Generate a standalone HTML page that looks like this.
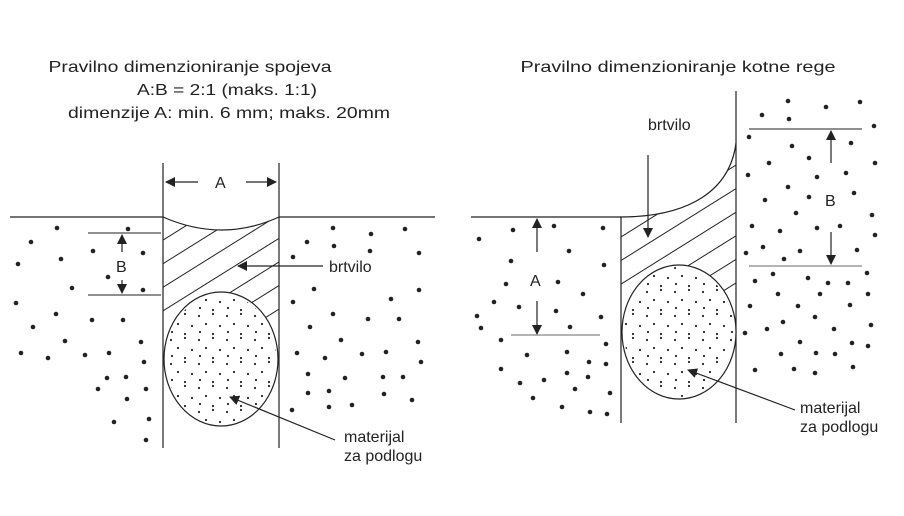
<!DOCTYPE html>
<html><head><meta charset="utf-8"><style>html,body{margin:0;padding:0;background:#fff}svg{display:block}text{font-family:"Liberation Sans",sans-serif;fill:#222}</style></head>
<body>
<svg width="904" height="516" viewBox="0 0 904 516" xmlns="http://www.w3.org/2000/svg">
<defs>
<pattern id="h" patternUnits="userSpaceOnUse" width="40" height="20" patternTransform="rotate(-32)">
<line x1="0" y1="10" x2="40" y2="10" stroke="#222" stroke-width="1"/>
</pattern>
<pattern id="d" patternUnits="userSpaceOnUse" width="28" height="24">
<circle cx="3" cy="4" r="1.1" fill="#222"/><circle cx="17" cy="2" r="1.1" fill="#222"/>
<circle cx="10" cy="12" r="1.1" fill="#222"/><circle cx="24" cy="14" r="1.1" fill="#222"/>
<circle cx="4" cy="20" r="1.1" fill="#222"/><circle cx="17" cy="22" r="1.1" fill="#222"/>
</pattern>
<marker id="a" markerWidth="10" markerHeight="10" refX="9" refY="5" orient="auto" markerUnits="userSpaceOnUse"><path d="M0,0 L10,5 L0,10 Z" fill="#222"/></marker>
</defs>
<g font-size="16" text-anchor="middle">
<text x="190" y="72" textLength="283" lengthAdjust="spacingAndGlyphs">Pravilno dimenzioniranje spojeva</text>
<text x="227" y="95" textLength="180" lengthAdjust="spacingAndGlyphs">A:B = 2:1 (maks. 1:1)</text>
<text x="229" y="118" textLength="322" lengthAdjust="spacingAndGlyphs">dimenzije A: min. 6 mm; maks. 20mm</text>
<text x="678" y="72" textLength="315" lengthAdjust="spacingAndGlyphs">Pravilno dimenzioniranje kotne rege</text>
</g>
<g stroke="#222" fill="none" stroke-width="1.2">
<path d="M163,217 Q222,243 279,217 L279,322 L163,322 Z" fill="url(#h)" stroke="none"/>
<line x1="10" y1="217" x2="163" y2="217"/><line x1="279" y1="217" x2="435" y2="217"/>
<path d="M163,217 Q222,243 279,217"/>
<line x1="163" y1="163" x2="163" y2="448"/><line x1="279" y1="163" x2="279" y2="448"/>
<ellipse cx="221" cy="359" rx="57" ry="67" fill="#fff"/>
<ellipse cx="221" cy="359" rx="55" ry="65" fill="url(#d)" stroke="none"/>
<line x1="198" y1="182" x2="166" y2="182" marker-end="url(#a)"/>
<line x1="246" y1="182" x2="276" y2="182" marker-end="url(#a)"/>
<line x1="88" y1="233" x2="161" y2="233" stroke-width="0.9"/><line x1="88" y1="295" x2="161" y2="295" stroke-width="0.9"/>
<line x1="122" y1="252" x2="122" y2="235" marker-end="url(#a)"/>
<line x1="122" y1="280" x2="122" y2="293" marker-end="url(#a)"/>
<line x1="323" y1="266" x2="238" y2="266" marker-end="url(#a)"/>
<line x1="335" y1="440" x2="230" y2="397" marker-end="url(#a)"/>
<path d="M621,217 C690,217 730,190 736,143 L736,295 L621,295 Z" fill="url(#h)" stroke="none"/>
<line x1="471" y1="217" x2="621" y2="217"/>
<path d="M620,217 C690,217 730,190 736,143"/>
<line x1="621" y1="217" x2="621" y2="423"/><line x1="736" y1="91" x2="736" y2="423"/>
<ellipse cx="679" cy="332" rx="57" ry="67" fill="#fff"/>
<ellipse cx="679" cy="332" rx="55" ry="65" fill="url(#d)" stroke="none"/>
<line x1="648" y1="155" x2="648" y2="237" marker-end="url(#a)"/>
<line x1="537" y1="252" x2="537" y2="219" marker-end="url(#a)"/>
<line x1="537" y1="301" x2="537" y2="334" marker-end="url(#a)"/>
<line x1="511" y1="335" x2="600" y2="335" stroke="#888"/>
<line x1="749" y1="129" x2="862" y2="129" stroke-width="0.9"/><line x1="749" y1="266" x2="862" y2="266" stroke="#888"/>
<line x1="831" y1="163" x2="831" y2="131" marker-end="url(#a)"/>
<line x1="831" y1="232" x2="831" y2="264" marker-end="url(#a)"/>
<line x1="795" y1="410" x2="688" y2="370" marker-end="url(#a)"/>
</g>
<g font-size="16">
<text x="215" y="188">A</text><text x="116" y="272">B</text>
<text x="329" y="272">brtvilo</text>
<text x="344" y="442">materijal</text><text x="344" y="461">za podlogu</text>
<text x="648" y="130">brtvilo</text>
<text x="530" y="286">A</text><text x="825" y="206">B</text>
<text x="800" y="413">materijal</text><text x="800" y="432">za podlogu</text>
</g>
<g fill="#222">
<circle cx="57" cy="228" r="2.3"/><circle cx="128" cy="229" r="2.3"/><circle cx="31" cy="242" r="2.3"/><circle cx="93" cy="251" r="2.3"/><circle cx="143" cy="253" r="2.3"/><circle cx="18" cy="264" r="2.3"/><circle cx="61" cy="259" r="2.3"/><circle cx="108" cy="277" r="2.3"/><circle cx="72" cy="288" r="2.3"/><circle cx="143" cy="290" r="2.3"/><circle cx="16" cy="303" r="2.3"/><circle cx="56" cy="314" r="2.3"/><circle cx="92" cy="320" r="2.3"/><circle cx="123" cy="320" r="2.3"/><circle cx="33" cy="327" r="2.3"/><circle cx="65" cy="341" r="2.3"/><circle cx="141" cy="342" r="2.3"/><circle cx="21" cy="353" r="2.3"/><circle cx="48" cy="358" r="2.3"/><circle cx="85" cy="355" r="2.3"/><circle cx="109" cy="353" r="2.3"/><circle cx="144" cy="362" r="2.3"/><circle cx="107" cy="378" r="2.3"/><circle cx="126" cy="377" r="2.3"/><circle cx="98" cy="389" r="2.3"/><circle cx="146" cy="389" r="2.3"/><circle cx="127" cy="399" r="2.3"/><circle cx="114" cy="422" r="2.3"/><circle cx="149" cy="419" r="2.3"/><circle cx="146" cy="440" r="2.3"/>
<circle cx="333" cy="228" r="2.3"/><circle cx="371" cy="234" r="2.3"/><circle cx="405" cy="229" r="2.3"/><circle cx="307" cy="242" r="2.3"/><circle cx="334" cy="246" r="2.3"/><circle cx="370" cy="251" r="2.3"/><circle cx="419" cy="253" r="2.3"/><circle cx="293" cy="257" r="2.3"/><circle cx="314" cy="289" r="2.3"/><circle cx="419" cy="290" r="2.3"/><circle cx="293" cy="302" r="2.3"/><circle cx="391" cy="299" r="2.3"/><circle cx="333" cy="314" r="2.3"/><circle cx="368" cy="319" r="2.3"/><circle cx="399" cy="319" r="2.3"/><circle cx="310" cy="327" r="2.3"/><circle cx="341" cy="340" r="2.3"/><circle cx="418" cy="342" r="2.3"/><circle cx="297" cy="353" r="2.3"/><circle cx="325" cy="358" r="2.3"/><circle cx="362" cy="354" r="2.3"/><circle cx="386" cy="352" r="2.3"/><circle cx="421" cy="362" r="2.3"/><circle cx="308" cy="374" r="2.3"/><circle cx="345" cy="378" r="2.3"/><circle cx="383" cy="377" r="2.3"/><circle cx="403" cy="377" r="2.3"/><circle cx="308" cy="393" r="2.3"/><circle cx="329" cy="391" r="2.3"/><circle cx="384" cy="394" r="2.3"/><circle cx="412" cy="400" r="2.3"/><circle cx="292" cy="410" r="2.3"/><circle cx="329" cy="407" r="2.3"/><circle cx="352" cy="405" r="2.3"/>
<circle cx="479" cy="239" r="2.3"/><circle cx="513" cy="230" r="2.3"/><circle cx="554" cy="226" r="2.3"/><circle cx="603" cy="228" r="2.3"/><circle cx="511" cy="261" r="2.3"/><circle cx="569" cy="251" r="2.3"/><circle cx="604" cy="265" r="2.3"/><circle cx="506" cy="284" r="2.3"/><circle cx="558" cy="282" r="2.3"/><circle cx="583" cy="294" r="2.3"/><circle cx="494" cy="302" r="2.3"/><circle cx="519" cy="307" r="2.3"/><circle cx="556" cy="311" r="2.3"/><circle cx="477" cy="316" r="2.3"/><circle cx="601" cy="317" r="2.3"/><circle cx="481" cy="328" r="2.3"/><circle cx="570" cy="327" r="2.3"/><circle cx="501" cy="340" r="2.3"/><circle cx="606" cy="344" r="2.3"/><circle cx="527" cy="355" r="2.3"/><circle cx="567" cy="352" r="2.3"/><circle cx="589" cy="362" r="2.3"/><circle cx="606" cy="364" r="2.3"/><circle cx="501" cy="369" r="2.3"/><circle cx="567" cy="373" r="2.3"/><circle cx="588" cy="377" r="2.3"/><circle cx="520" cy="383" r="2.3"/><circle cx="544" cy="380" r="2.3"/><circle cx="575" cy="389" r="2.3"/><circle cx="610" cy="393" r="2.3"/><circle cx="533" cy="398" r="2.3"/><circle cx="562" cy="407" r="2.3"/><circle cx="590" cy="412" r="2.3"/><circle cx="607" cy="414" r="2.3"/>
<circle cx="788" cy="101" r="2.3"/><circle cx="826" cy="107" r="2.3"/><circle cx="860" cy="102" r="2.3"/><circle cx="762" cy="115" r="2.3"/><circle cx="789" cy="119" r="2.3"/><circle cx="874" cy="126" r="2.3"/><circle cx="749" cy="137" r="2.3"/><circle cx="792" cy="146" r="2.3"/><circle cx="851" cy="143" r="2.3"/><circle cx="769" cy="163" r="2.3"/><circle cx="809" cy="158" r="2.3"/><circle cx="875" cy="163" r="2.3"/><circle cx="748" cy="175" r="2.3"/><circle cx="817" cy="177" r="2.3"/><circle cx="846" cy="173" r="2.3"/><circle cx="788" cy="187" r="2.3"/><circle cx="765" cy="200" r="2.3"/><circle cx="809" cy="197" r="2.3"/><circle cx="854" cy="193" r="2.3"/><circle cx="796" cy="213" r="2.3"/><circle cx="872" cy="215" r="2.3"/><circle cx="752" cy="226" r="2.3"/><circle cx="780" cy="231" r="2.3"/><circle cx="817" cy="228" r="2.3"/><circle cx="840" cy="226" r="2.3"/><circle cx="875" cy="235" r="2.3"/><circle cx="746" cy="253" r="2.3"/><circle cx="763" cy="247" r="2.3"/><circle cx="800" cy="251" r="2.3"/><circle cx="784" cy="259" r="2.3"/><circle cx="857" cy="250" r="2.3"/><circle cx="773" cy="274" r="2.3"/><circle cx="755" cy="281" r="2.3"/><circle cx="808" cy="278" r="2.3"/><circle cx="828" cy="283" r="2.3"/><circle cx="848" cy="283" r="2.3"/><circle cx="867" cy="273" r="2.3"/><circle cx="778" cy="294" r="2.3"/><circle cx="820" cy="294" r="2.3"/><circle cx="868" cy="294" r="2.3"/><circle cx="750" cy="306" r="2.3"/><circle cx="798" cy="306" r="2.3"/><circle cx="850" cy="305" r="2.3"/><circle cx="783" cy="322" r="2.3"/><circle cx="815" cy="317" r="2.3"/><circle cx="871" cy="325" r="2.3"/><circle cx="745" cy="333" r="2.3"/><circle cx="767" cy="329" r="2.3"/><circle cx="834" cy="329" r="2.3"/><circle cx="800" cy="342" r="2.3"/><circle cx="852" cy="343" r="2.3"/><circle cx="868" cy="346" r="2.3"/><circle cx="781" cy="354" r="2.3"/><circle cx="816" cy="353" r="2.3"/><circle cx="835" cy="354" r="2.3"/><circle cx="755" cy="370" r="2.3"/><circle cx="794" cy="369" r="2.3"/><circle cx="815" cy="373" r="2.3"/><circle cx="853" cy="367" r="2.3"/>
</g>
</svg>
</body></html>
